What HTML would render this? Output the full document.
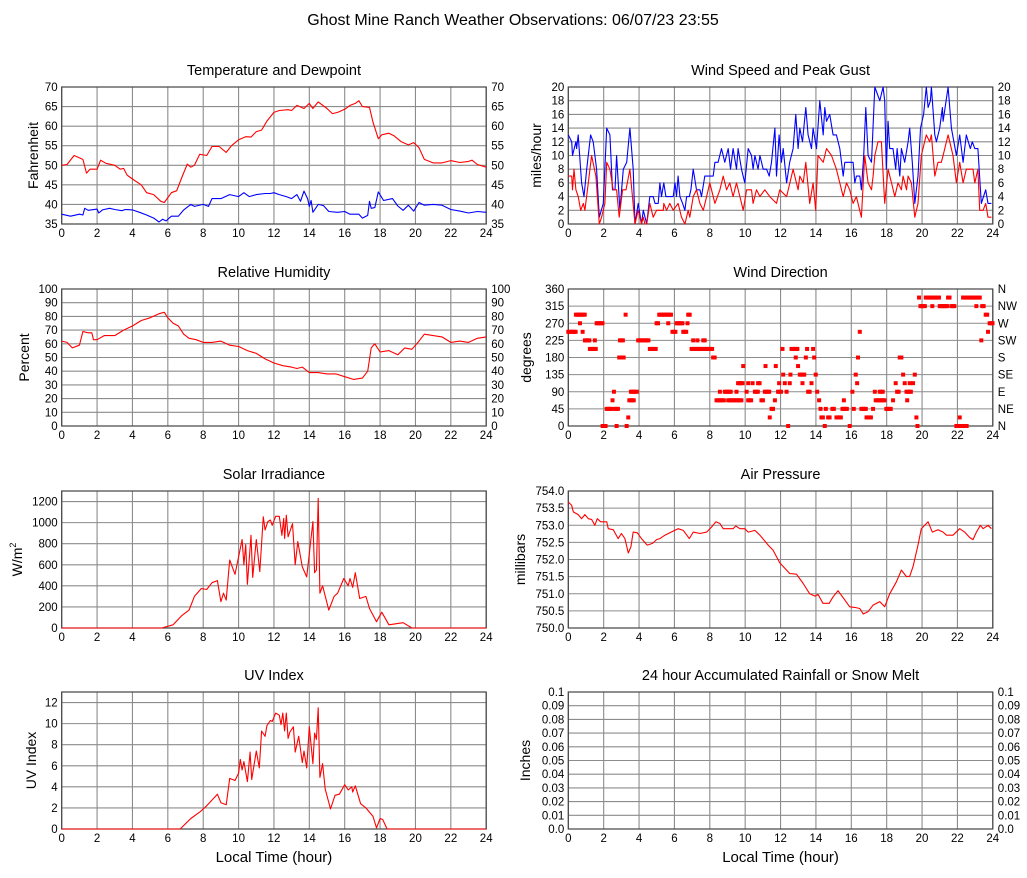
<!DOCTYPE html>
<html><head><meta charset="utf-8"><title>Ghost Mine Ranch Weather</title>
<style>
html,body{margin:0;padding:0;background:#fff;}
svg{display:block;font-family:"Liberation Sans",sans-serif;}
</style></head>
<body>
<svg id="chart" width="1027" height="878" viewBox="0 0 1027 878" xmlns="http://www.w3.org/2000/svg">
<rect width="1027" height="878" fill="#fff"/>
<text x="513" y="25" font-size="16" text-anchor="middle">Ghost Mine Ranch Weather Observations: 06/07/23 23:55</text>
</svg>
<script>
// ---- data ----
const hourTicks = [0,2,4,6,8,10,12,14,16,18,20,22,24];
const tempData = [[0,50],[0.3,50.2],[0.7,52.5],[1.2,51.5],[1.4,48],[1.6,49],[2,49],[2.2,51.3],[2.5,50.5],[3,50],[3.3,49],[3.5,49.2],[3.7,47.5],[4,46.5],[4.5,45],[4.8,43],[5.2,42.5],[5.6,40.8],[5.8,40.5],[6.2,43],[6.5,43.5],[6.8,47],[7.1,50.3],[7.3,49.5],[7.5,50],[7.8,52.8],[8.2,52.5],[8.5,54.8],[8.9,54.8],[9.3,53.3],[9.6,55],[10,56.5],[10.4,57.3],[10.7,57.2],[11,58.6],[11.3,59],[11.6,61.3],[12,63.5],[12.3,64],[12.8,64.2],[13,64],[13.3,65.3],[13.7,64.5],[14,65.8],[14.2,64.5],[14.5,66.2],[15,64.5],[15.3,63.2],[15.6,63.5],[16,64.3],[16.3,65.3],[16.6,65.8],[16.8,66.5],[17,65],[17.4,64.8],[17.6,61],[17.9,56.8],[18.1,57.8],[18.5,58.2],[18.8,57.5],[19.2,56],[19.6,55.2],[19.9,55.8],[20.2,54.5],[20.5,51.5],[21,50.6],[21.5,50.6],[22,51.2],[22.5,50.7],[23,51],[23.2,51.3],[23.5,50.2],[24,49.5]];
const dewData = [[0,37.5],[0.5,37],[1,37.5],[1.2,37.3],[1.3,39],[1.5,38.5],[2,38.8],[2.1,37.8],[2.3,38.6],[2.7,39],[3,38.7],[3.4,38.4],[3.6,38.7],[4,38.6],[4.4,38],[4.8,37.3],[5.2,36.5],[5.5,35.5],[5.7,36.2],[5.9,35.8],[6.2,37],[6.6,37],[6.9,38.6],[7.3,40],[7.5,39.5],[8,40],[8.3,39.5],[8.5,41.5],[9,41.5],[9.5,42.5],[10,42],[10.3,43],[10.6,42],[11,42.5],[11.5,42.8],[11.8,42.8],[12,43],[12.3,42.5],[12.7,42],[13,41.5],[13.3,42.5],[13.5,40.8],[13.7,43.4],[13.9,41.5],[14,39.5],[14.1,41],[14.2,38],[14.5,40],[14.8,39.7],[15.1,38.2],[15.6,38],[16,38.2],[16.3,37.5],[16.8,37.5],[17,36.5],[17.3,37.2],[17.4,40.8],[17.5,39],[17.7,39.2],[17.9,43.2],[18.2,41],[18.7,41.5],[19,39.6],[19.3,38.5],[19.6,39.8],[19.9,38.3],[20.2,40.5],[20.5,39.8],[21,40],[21.5,39.8],[22,38.7],[22.5,38.3],[23,37.8],[23.5,38.2],[24,38]];
const gustData = [[0,13],[0.19,12],[0.24,10],[0.43,12],[0.47,11],[0.56,13],[0.75,6],[0.89,4],[1.04,8],[1.26,13],[1.41,12],[1.6,8],[1.75,1],[1.98,3],[2.17,14],[2.35,13],[2.5,5],[2.64,5],[2.73,10],[2.92,2],[3.11,8],[3.3,9],[3.48,14],[3.67,8],[3.77,0],[3.95,3],[4.14,0],[4.24,2],[4.43,0],[4.61,4],[4.8,4],[4.9,3],[5.08,3],[5.18,6],[5.27,4],[5.4,6],[5.52,4],[5.93,4],[6.03,6],[6.12,4],[6.21,7],[6.31,4],[6.46,3],[6.59,2],[6.69,4],[6.84,4],[6.93,5],[7.06,8],[7.25,5],[7.44,5],[7.53,4],[7.72,7],[8.19,7],[8.29,9],[8.47,9],[8.66,11],[8.85,9],[9.04,11],[9.17,8],[9.32,11],[9.51,8],[9.6,11],[9.79,8],[9.98,6],[10.17,11],[10.36,10],[10.45,8],[10.55,10],[10.73,8],[10.83,10],[11.02,8],[11.21,8],[11.36,7],[11.49,9],[11.68,14],[11.77,7],[11.92,13],[12.05,9],[12.15,11],[12.34,6],[12.52,9],[12.71,11],[12.86,16],[12.99,11],[13.09,14],[13.24,12],[13.43,17],[13.56,13],[13.75,11],[13.84,14],[14.03,11],[14.22,18],[14.41,13],[14.5,17],[14.6,15],[14.78,16],[14.97,13],[15.16,13],[15.35,11],[15.54,7],[15.63,9],[16.1,9],[16.2,6],[16.29,7],[16.48,7],[16.57,5],[16.7,10],[16.82,17],[16.95,10],[17.14,9],[17.33,20],[17.61,18],[17.8,20],[17.89,18],[17.98,8],[18.08,15],[18.17,11],[18.36,11],[18.51,8],[18.59,11],[18.74,7],[18.83,11],[19.02,9],[19.21,12],[19.3,14],[19.45,9],[19.59,3],[19.77,7],[19.91,14],[20.09,16],[20.24,20],[20.34,17],[20.47,18],[20.53,20],[20.72,13],[20.81,12],[21,14],[21.15,17],[21.19,15],[21.47,20],[21.66,14],[21.94,10],[22.13,13],[22.32,9],[22.5,13],[22.73,11],[22.84,12],[22.98,11],[23.16,11],[23.35,3],[23.6,5],[23.73,3],[23.92,3]];
const speedData = [[0,7],[0.19,7],[0.24,5],[0.32,8],[0.43,5],[0.56,4],[0.7,2],[0.85,3],[0.94,2],[1.13,6],[1.32,10],[1.56,7],[1.75,0],[1.88,1],[2.07,3],[2.17,9],[2.35,8],[2.54,5],[2.73,5],[2.88,1],[3.07,5],[3.26,5],[3.48,8],[3.77,0],[3.95,2],[4.14,0],[4.24,1],[4.33,0],[4.43,0],[4.61,3],[4.8,1],[4.99,2],[5.37,2],[5.4,3],[5.56,2],[5.74,3],[5.93,2],[6.21,3],[6.4,1],[6.59,0],[6.78,2],[6.87,1],[7.06,4],[7.25,5],[7.44,3],[7.63,2],[7.82,4],[8,6],[8.29,3],[8.57,5],[8.76,7],[8.95,5],[9.13,6],[9.32,4],[9.51,6],[9.7,4],[9.89,2],[10.08,5],[10.36,5],[10.45,3],[10.64,5],[10.83,4],[11.11,5],[11.39,4],[11.77,3],[11.96,5],[12.34,4],[12.71,8],[12.99,5],[13.09,7],[13.28,6],[13.43,9],[13.65,3],[13.84,6],[13.99,2],[14.12,10],[14.41,9],[14.6,11],[14.88,10],[15.16,8],[15.54,4],[15.73,6],[15.91,5],[16.1,3],[16.29,4],[16.57,1],[16.76,10],[16.95,6],[17.14,5],[17.23,7],[17.33,10],[17.51,12],[17.7,12],[17.89,3],[18.08,8],[18.27,6],[18.46,4],[18.64,6],[18.83,5],[18.93,7],[19.12,5],[19.21,7],[19.4,6],[19.59,1],[19.77,3],[19.96,10],[20.24,13],[20.43,12],[20.53,13],[20.72,7],[20.9,9],[21.09,9],[21.19,10],[21.47,13],[21.75,10],[21.94,6],[22.13,9],[22.32,6],[22.5,8],[22.88,8],[22.98,6],[23.16,8],[23.26,2],[23.45,2],[23.6,3],[23.73,1],[23.92,1]];
const humidityData = [[0,62],[0.3,61],[0.6,57],[1,59],[1.2,69],[1.5,68],[1.7,68],[1.8,63],[2,63],[2.4,66],[3,66],[3.5,70],[4,73],[4.5,77],[5,79],[5.5,82],[5.8,83],[6,79],[6.3,75],[6.6,73],[6.9,67],[7.2,64],[7.6,63],[8,61],[8.5,61],[9,62],[9.5,59],[10,58],[10.5,55],[11,53],[11.5,49],[12,46],[12.5,44],[13,43],[13.3,42],[13.6,43],[14,39],[14.5,39],[15,38],[15.5,38],[16,36],[16.5,34],[17,35],[17.3,40],[17.5,57],[17.7,60],[18,54],[18.5,55],[19,52],[19.4,57],[19.8,56],[20.2,62],[20.5,67],[21,66],[21.5,65],[22,61],[22.5,62],[23,61],[23.5,64],[24,65]];
const dirStart = [0,0.43,0.66,0.81,0.94,1.5,1.22,1.6,1.94,2.17,2.5,2.58,2.64,2.73,2.88,2.92,3.24,3.3,3.39,3.45,3.54,3.95,4.61,4.99,5.14,5.65,5.89,6.12,6.5,6.74,6.78,7.06,6.97,7.3,7.63,8.19,8.38,8.57,8.85,9.04,9.51,9.6,9.89,10.08,10.17,10.17,10.42,10.55,10.73,10.92,11.11,11.15,11.39,11.49,11.68,11.73,11.86,11.92,12.11,12.15,12.24,12.34,12.43,12.52,12.56,12.62,12.86,12.99,13.09,13.24,13.43,13.5,13.56,13.75,13.84,13.9,13.99,14.07,14.18,14.26,14.31,14.5,14.56,14.69,14.93,15.16,15.5,15.58,15.91,16.06,16.14,16.25,16.33,16.38,16.48,16.57,16.86,17.23,17.33,17.38,17.61,17.98,18.36,18.51,18.59,18.74,18.83,18.93,19.02,19.12,19.16,19.3,19.49,19.59,19.68,19.74,19.83,19.91,20.21,20.58,21,21.47,21.66,21.94,22.13,22.32,22.6,23.07,23.35,23.4,23.6,23.73,23.82];
const dirEnd   = [0.47,0.94,0.66,0.81,1.22,1.5,1.6,1.94,2.13,2.45,2.5,2.58,2.88,2.73,3.16,3.11,3.24,3.3,3.39,3.71,3.95,4.61,4.99,5.08,5.84,5.65,6.12,6.46,6.69,6.74,6.93,7.06,8.19,7.3,7.76,8.34,8.85,8.57,9.23,9.79,9.51,9.85,9.89,10.08,10.17,10.36,10.42,10.73,10.83,11.02,11.36,11.15,11.39,11.58,11.68,11.73,12.05,11.92,12.11,12.15,12.24,12.34,12.43,12.52,12.56,12.99,12.86,12.99,13.37,13.24,13.43,13.5,13.69,13.75,13.84,13.9,13.99,14.07,14.18,14.26,14.41,14.5,14.56,14.82,15.07,15.44,15.82,15.58,15.91,16.06,16.14,16.25,16.33,16.38,16.48,16.86,17.14,17.23,17.33,17.89,17.8,18.27,18.36,18.51,18.7,18.74,18.83,18.93,19.02,19.4,19.16,19.3,19.49,19.59,19.68,19.74,19.83,20.21,20.96,20.58,21.47,21.6,21.9,22.6,22.13,22.5,23.3,23.07,23.35,23.54,23.73,23.73,24];
const dirDeg   = [247.5,292.5,270,247.5,225,225,202.5,270,0,45,67.5,90,45,0,180,225,292.5,0,22.5,67.5,90,225,202.5,270,292.5,270,247.5,270,247.5,270,292.5,225,202.5,225,225,180,67.5,90,90,67.5,90,112.5,157.5,90,112.5,67.5,112.5,90,112.5,67.5,90,157.5,22.5,45,67.5,157.5,90,112.5,202.5,135,112.5,90,0,112.5,135,202.5,180,157.5,135,112.5,180,202.5,90,112.5,202.5,180,135,90,67.5,45,22.5,0,45,22.5,45,22.5,45,67.5,0,90,45,135,112.5,180,247.5,45,22.5,45,90,67.5,90,45,67.5,112.5,90,180,180,135,112.5,90,67.5,112.5,112.5,135,22.5,0,337.5,315,337.5,315,315,337.5,315,0,22.5,337.5,337.5,315,225,315,292.5,247.5,270];
const solarData = [[0,0],[5.66,0],[6.3,30],[6.8,120],[7.2,170],[7.5,300],[7.9,375],[8.2,365],[8.5,430],[8.8,450],[9.0,250],[9.15,330],[9.3,265],[9.5,645],[9.8,510],[10.0,675],[10.2,840],[10.3,600],[10.4,790],[10.5,415],[10.7,880],[10.8,480],[11.0,840],[11.2,535],[11.4,1055],[11.5,930],[11.65,1010],[11.8,1025],[11.9,975],[12.1,1060],[12.3,1060],[12.45,880],[12.55,1040],[12.6,850],[12.7,1070],[12.8,865],[13.05,990],[13.2,600],[13.35,820],[13.6,580],[13.85,485],[14.2,1010],[14.3,525],[14.4,550],[14.5,1230],[14.6,330],[14.75,400],[15.1,170],[15.4,300],[15.6,330],[15.95,470],[16.2,400],[16.3,470],[16.45,385],[16.6,525],[16.85,280],[17.2,300],[17.4,185],[17.8,60],[18.1,150],[18.5,30],[19.3,50],[19.8,0],[24,0]];
const pressureData = [[0,753.68],[0.19,753.58],[0.28,753.39],[0.56,753.31],[0.75,753.19],[0.94,753.31],[1.13,753.19],[1.32,753.17],[1.5,753.0],[1.64,753.19],[1.83,753.1],[2.17,753.1],[2.26,752.9],[2.54,752.87],[2.82,752.61],[3.0,752.76],[3.2,752.61],[3.39,752.19],[3.54,752.37],[3.67,752.8],[3.9,752.78],[4.14,752.61],[4.46,752.42],[4.76,752.47],[4.99,752.58],[5.18,752.61],[5.46,752.71],[5.74,752.78],[6.21,752.9],[6.5,752.85],[6.84,752.61],[7.06,752.8],[7.44,752.76],[7.82,752.8],[8.1,752.95],[8.34,753.1],[8.57,753.05],[8.76,752.9],[9.32,752.9],[9.47,752.98],[9.7,752.9],[9.98,752.9],[10.17,752.8],[10.55,752.85],[10.83,752.71],[11.3,752.42],[11.58,752.27],[11.96,751.9],[12.52,751.59],[12.9,751.57],[13.28,751.3],[13.65,751.0],[13.94,750.93],[14.12,750.98],[14.4,750.72],[14.75,750.72],[14.97,750.91],[15.25,751.09],[15.5,750.91],[15.91,750.62],[16.2,750.6],[16.48,750.57],[16.67,750.41],[16.95,750.48],[17.23,750.67],[17.61,750.77],[17.89,750.62],[18.17,751.0],[18.55,751.35],[18.83,751.69],[19.12,751.5],[19.3,751.51],[19.49,751.79],[19.77,752.42],[19.96,752.9],[20.34,753.1],[20.58,752.8],[20.9,752.87],[21.19,752.8],[21.38,752.71],[21.75,752.71],[22.13,752.9],[22.41,752.8],[22.7,752.64],[22.88,752.58],[23.07,752.8],[23.3,753.0],[23.45,752.9],[23.73,753.0],[23.92,752.9]];
const uvData = [[0,0],[6.7,0],[7.3,1],[7.8,1.6],[8.2,2.2],[8.8,3.3],[9.0,2.5],[9.3,2.3],[9.5,4.8],[9.8,4.6],[10.0,5.3],[10.1,6.6],[10.2,5.6],[10.3,6.4],[10.5,4.5],[10.65,7.3],[10.74,4.7],[11.0,7.4],[11.17,5.8],[11.3,9.3],[11.5,8.8],[11.6,9.8],[11.8,10.3],[11.9,10.2],[12.1,11],[12.3,10.8],[12.4,9.9],[12.5,11],[12.6,9.3],[12.7,11],[12.8,8.6],[12.9,9.2],[13.1,9.7],[13.2,7.3],[13.4,8.8],[13.6,6.3],[13.7,7.4],[13.85,5.8],[14.0,9.7],[14.2,6.2],[14.3,9.1],[14.4,8.5],[14.5,11.5],[14.6,4.9],[14.75,6.2],[14.9,3.8],[15.2,1.9],[15.45,3.2],[15.7,3.3],[16.0,4.2],[16.2,3.7],[16.4,4.0],[16.45,3.5],[16.6,4.1],[16.9,2.4],[17.2,2.0],[17.6,1.2],[17.8,0.1],[18.0,1.0],[18.15,0.9],[18.4,0],[24,0]];
const rainData = [];
const tempTicks = [35,40,45,50,55,60,65,70];
const windTicks = [0,2,4,6,8,10,12,14,16,18,20];
const humTicks = [0,10,20,30,40,50,60,70,80,90,100];
const dirTicks = [0,45,90,135,180,225,270,315,360];
const dirNames = ["N","NE","E","SE","S","SW","W","NW","N"];
const solarTicks = [0,200,400,600,800,1000,1200];
const presTicks = [750.0,750.5,751.0,751.5,752.0,752.5,753.0,753.5,754.0];
const uvTicks = [0,2,4,6,8,10,12];
const rainTicks = [0,0.01,0.02,0.03,0.04,0.05,0.06,0.07,0.08,0.09,0.1];

// ---- drawing ----
const NS = "http://www.w3.org/2000/svg";
const svg = document.getElementById('chart');
function mk(tag, attrs, parent){
  const e = document.createElementNS(NS, tag);
  for (const k in attrs) e.setAttribute(k, attrs[k]);
  (parent||svg).appendChild(e);
  return e;
}
const LX = 61.7, RX = 568.3, PW = 424.5, PH = 137;
const rows = [87, 289, 491, 692];

function panel(name, x0, y0, ymin, ymax, ticks, fmtL, fmtR, title, ytitle, ytx, xlabel){
  const g = mk('g', {});
  
  
  const sx = h => x0 + h / 24 * PW;
  const sy = v => y0 + PH - (v - ymin) / (ymax - ymin) * PH;
  const t = mk('text', {x: x0 + PW/2, y: y0 - 12, 'font-size': 14.5, 'text-anchor': 'middle'}, g);
  t.textContent = title;
  
  
  // grid
  hourTicks.forEach(h => {
    const l = mk('line', {x1: sx(h), x2: sx(h), y1: y0, y2: y0 + PH, stroke: '#8c8c8c', 'stroke-width': 1.1}, g);
    
    
    const tl = mk('text', {x: sx(h), y: y0 + PH + 13, 'font-size': 11.5, 'text-anchor': 'middle'}, g);
    tl.textContent = h;
    
    
  });
  ticks.forEach((v, i) => {
    const l = mk('line', {x1: x0, x2: x0 + PW, y1: sy(v), y2: sy(v), stroke: '#8c8c8c', 'stroke-width': 1.1}, g);
    
    
    const tl = mk('text', {x: x0 - 4, y: sy(v) + 4, 'font-size': 11.5, 'text-anchor': 'end'}, g);
    tl.textContent = fmtL(v, i);
    
    
    if (fmtR) {
      const tr = mk('text', {x: x0 + PW + 5, y: sy(v) + 4, 'font-size': 11.5, 'text-anchor': 'start'}, g);
      tr.textContent = fmtR(v, i);
      
      
    }
  });
  const b = mk('rect', {x: x0, y: y0, width: PW, height: PH, fill: 'none', stroke: '#444', 'stroke-width': 1.2}, g);
  
  
  const yt = mk('text', {x: ytx, y: y0 + PH/2, 'font-size': 14, 'text-anchor': 'middle', transform: `rotate(-90 ${ytx} ${y0 + PH/2})`}, g);
  yt.innerHTML = ytitle;
  
  
  if (xlabel) {
    const xl = mk('text', {x: x0 + PW/2, y: y0 + PH + 33, 'font-size': 15, 'text-anchor': 'middle'}, g);
    xl.textContent = 'Local Time (hour)';
    
    
  }
  return {g, sx, sy};
}
function line(p, data, color, name){
  const d = data.map((pt, i) => (i ? 'L' : 'M') + p.sx(pt[0]).toFixed(1) + ' ' + p.sy(pt[1]).toFixed(1)).join(' ');
  const e = mk('path', {d, fill: 'none', stroke: color, 'stroke-width': 1.1, 'stroke-linejoin': 'round'}, p.g);
  
  
}
const num = v => String(v);

const p1 = panel('temperature', LX, rows[0], 35, 70, tempTicks, num, num, 'Temperature and Dewpoint', 'Fahrenheit', 38, false);
line(p1, tempData, '#ff0000', 'temperature-line');
line(p1, dewData, '#0000ff', 'dewpoint-line');

const p2 = panel('wind-speed', RX, rows[0], 0, 20, windTicks, num, num, 'Wind Speed and Peak Gust', 'miles/hour', 541, false);
line(p2, gustData, '#0000ff', 'peak-gust-line');
line(p2, speedData, '#ff0000', 'wind-speed-line');

const p3 = panel('humidity', LX, rows[1], 0, 100, humTicks, num, num, 'Relative Humidity', 'Percent', 29, false);
line(p3, humidityData, '#ff0000', 'humidity-line');

const p4 = panel('wind-direction', RX, rows[1], 0, 360, dirTicks, num, (v, i) => dirNames[i], 'Wind Direction', 'degrees', 531, false);
for (let k = 0; k < dirStart.length; k++) {
  for (let h = dirStart[k]; h <= dirEnd[k] + 0.001; h += 0.083) {
    const r = mk('rect', {x: p4.sx(h) - 2, y: p4.sy(dirDeg[k]) - 2, width: 4, height: 4, fill: '#ff0000'}, p4.g);
    
    
  }
}

const p5 = panel('solar', LX, rows[2], 0, 1300, solarTicks, num, null, 'Solar Irradiance', 'W/m<tspan font-size="9" dy="-6">2</tspan>', 22, false);
line(p5, solarData, '#ff0000', 'solar-line');

const p6 = panel('pressure', RX, rows[2], 750, 754, presTicks, v => v.toFixed(1), null, 'Air Pressure', 'millibars', 525, false);
line(p6, pressureData, '#ff0000', 'pressure-line');

const p7 = panel('uv', LX, rows[3], 0, 13, uvTicks, num, null, 'UV Index', 'UV Index', 36, true);
line(p7, uvData, '#ff0000', 'uv-line');

const p8 = panel('rainfall', RX, rows[3], 0, 0.1, rainTicks, v => v === 0 ? '0.0' : String(v), v => v === 0 ? '0.0' : String(v), '24 hour Accumulated Rainfall or Snow Melt', 'Inches', 530, true);
if (rainData.length) line(p8, rainData, '#ff0000', 'rainfall-line');
</script>
</body></html>
